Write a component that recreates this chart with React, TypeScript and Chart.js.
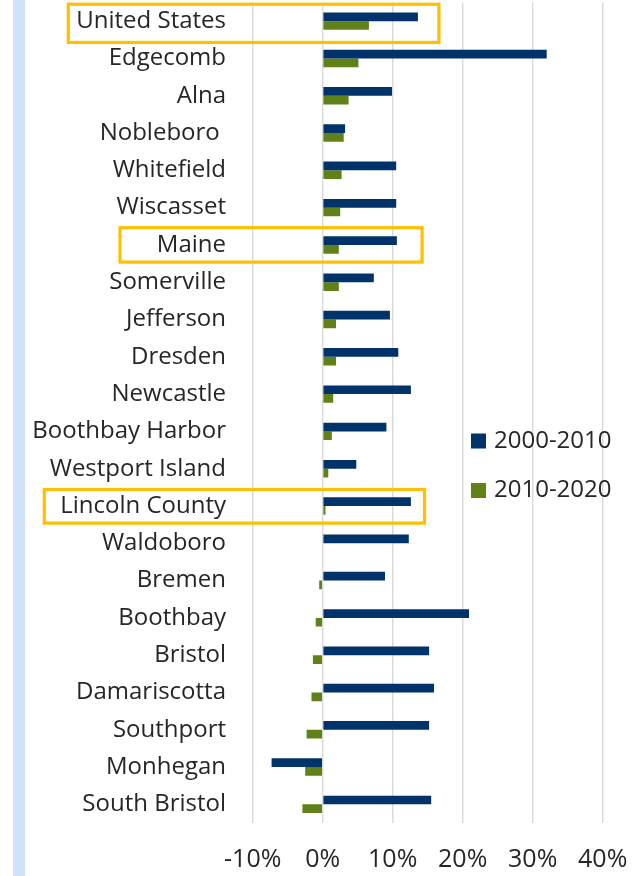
import React, { useEffect, useRef } from 'react';
import { Chart, registerables } from 'chart.js';

Chart.register(...registerables);

const categories = [
  'United States', 'Edgecomb', 'Alna', 'Nobleboro ', 'Whitefield', 'Wiscasset',
  'Maine', 'Somerville', 'Jefferson', 'Dresden', 'Newcastle', 'Boothbay Harbor',
  'Westport Island', 'Lincoln County', 'Waldoboro', 'Bremen', 'Boothbay',
  'Bristol', 'Damariscotta', 'Southport', 'Monhegan', 'South Bristol',
];
const growth2000to2010 = [
  13.6, 32.0, 9.9, 3.2, 10.5, 10.5, 10.6, 7.3, 9.6, 10.8, 12.6, 9.1,
  4.8, 12.6, 12.3, 8.9, 20.9, 15.2, 15.9, 15.2, -7.3, 15.5,
];
const growth2010to2020 = [
  6.6, 5.1, 3.7, 3.0, 2.7, 2.5, 2.3, 2.3, 1.9, 1.9, 1.5, 1.3,
  0.8, 0.4, 0.0, -0.5, -1.0, -1.4, -1.6, -2.3, -2.5, -2.9,
];
const seriesLabels = ['2000-2010', '2010-2020'];
const axisMin = -10;
const axisMax = 40;
const axisStep = 10;
const highlightedCategories = ['United States', 'Maine', 'Lincoln County'];
const highlightRightValues = [16.6, 14.2, 14.55];

const FONT = '"Open Sans", "Noto Sans", sans-serif';
const TEXT = '#262626';
const NAVY = '#003369';
const GREEN = '#5f8118';
const GOLD = '#ffc000';

const highlightGeometry = [
  { left: 68.3, top: -16.9, bottom: 21.3 },
  { left: 120, top: -17.2, bottom: 17.2 },
  { left: 44.3, top: -16.5, bottom: 17.1 },
];

const highlightPlugin = {
  id: 'highlightBoxes',
  afterDatasetsDraw(chart: any) {
    const { ctx, scales } = chart;
    const x = scales.x;
    const y = scales.y;
    ctx.save();
    ctx.strokeStyle = GOLD;
    ctx.lineWidth = 3.2;
    highlightedCategories.forEach((name, k) => {
      const idx = chart.data.labels.indexOf(name);
      if (idx < 0) return;
      const cy = y.getPixelForValue(idx);
      const g = highlightGeometry[k];
      const right = x.getPixelForValue(highlightRightValues[k]);
      ctx.strokeRect(g.left, cy + g.top, right - g.left, g.bottom - g.top);
    });
    ctx.restore();
  },
};

const legendPlugin = {
  id: 'innerLegend',
  afterDraw(chart: any) {
    const { ctx } = chart;
    ctx.save();
    ctx.font = `24px ${FONT}`;
    ctx.textBaseline = 'middle';
    ctx.textAlign = 'left';
    chart.data.datasets.forEach((ds: any, i: number) => {
      const cy = 441 + i * 49.5;
      ctx.fillStyle = ds.backgroundColor;
      ctx.fillRect(471, cy - 7.5, 15, 15);
      ctx.fillStyle = TEXT;
      ctx.fillText(ds.label, 494, cy);
    });
    ctx.restore();
  },
};

export default function App() {
  const ref = useRef<HTMLCanvasElement | null>(null);

  useEffect(() => {
    if (!ref.current) return;
    const chart = new Chart(ref.current, {
      type: 'bar',
      data: {
        labels: categories,
        datasets: [
          {
            label: seriesLabels[0],
            data: growth2000to2010,
            backgroundColor: NAVY,
            categoryPercentage: 0.467,
            barPercentage: 1,
          },
          {
            label: seriesLabels[1],
            data: growth2010to2020,
            backgroundColor: GREEN,
            categoryPercentage: 0.467,
            barPercentage: 1,
          },
        ],
      },
      options: {
        indexAxis: 'y',
        responsive: false,
        animation: false,
        layout: { padding: { top: 2.5, right: 30.3, left: 0, bottom: 0 } },
        plugins: {
          legend: { display: false },
          tooltip: { enabled: false },
        },
        scales: {
          x: {
            type: 'linear',
            min: axisMin,
            max: axisMax,
            ticks: {
              stepSize: axisStep,
              callback: (v: any) => `${v}%`,
              color: TEXT,
              font: { family: FONT, size: 25 },
              padding: 22,
              maxRotation: 0,
            },
            grid: { color: '#d9d9d9', lineWidth: 1.4, drawTicks: false },
            border: { display: false },
            afterFit: (s: any) => {
              s.height = 53;
              s.paddingLeft = 0;
              s.paddingRight = 0;
            },
          },
          y: {
            type: 'category',
            ticks: {
              color: TEXT,
              font: { family: FONT, size: 24 },
              padding: 26.7,
              autoSkip: false,
            },
            grid: { display: false, drawTicks: false },
            border: { display: false },
            afterFit: (s: any) => {
              s.width = 252.7;
              s.paddingTop = 0;
              s.paddingBottom = 0;
            },
          },
        },
      },
      plugins: [highlightPlugin, legendPlugin],
    });
    return () => chart.destroy();
  }, []);

  return (
    <div style={{ position: 'absolute', left: 0, top: 0, width: 633, height: 876, background: '#fff', overflow: 'hidden' }}>
      <div style={{ position: 'absolute', left: 13, top: 0, width: 12, height: 876, background: '#d0e2fa' }} />
      <canvas ref={ref} width={633} height={876} style={{ position: 'absolute', left: 0, top: 0 }} />
    </div>
  );
}
